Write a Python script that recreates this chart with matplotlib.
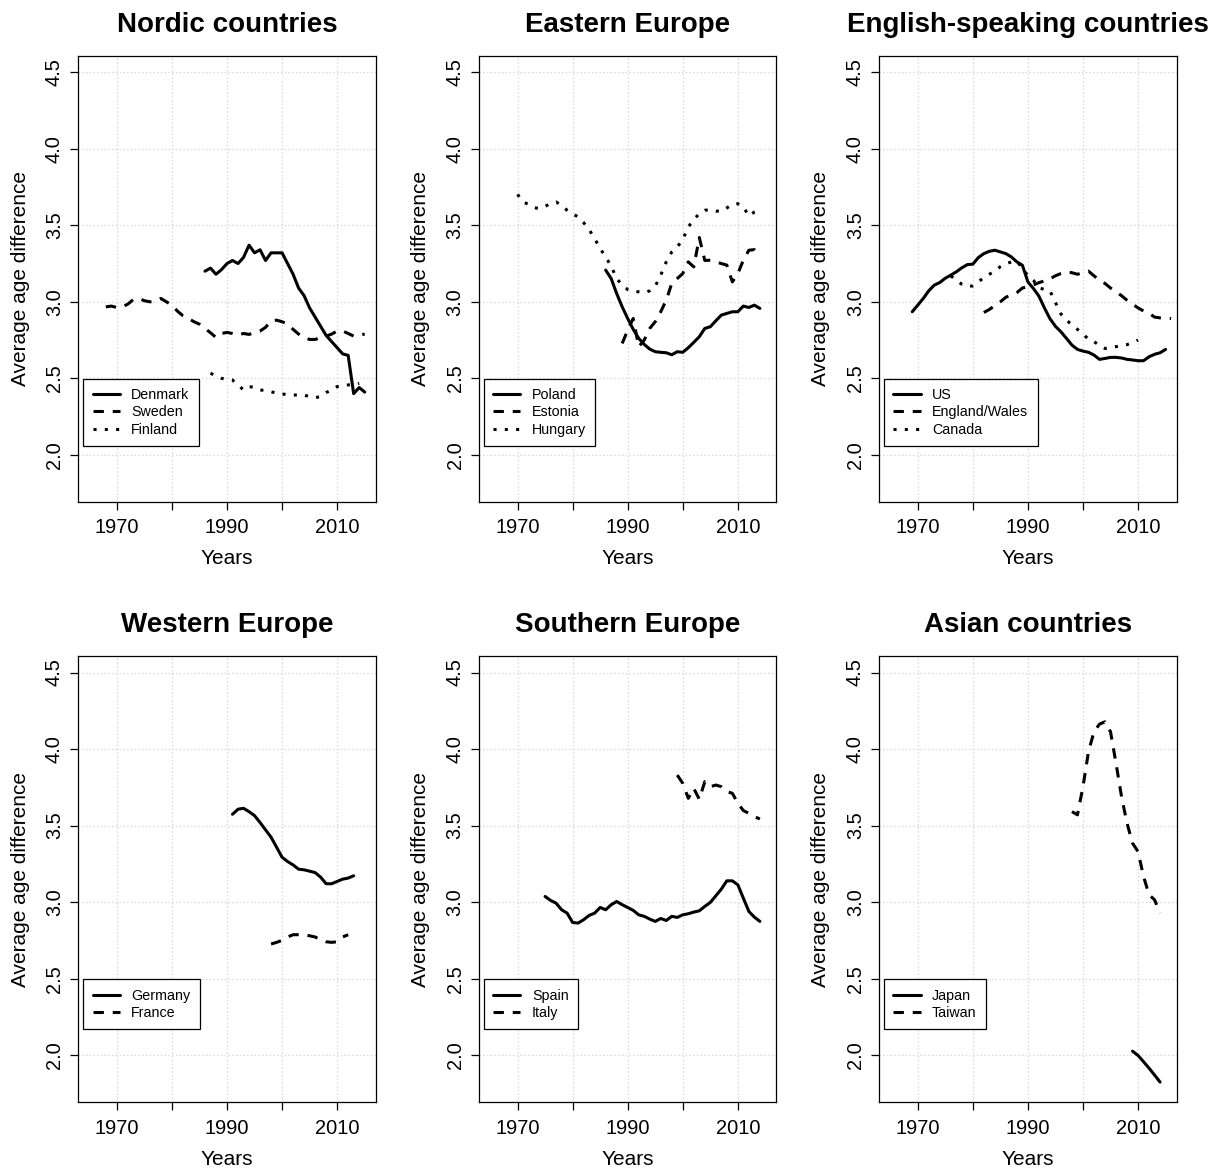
import matplotlib
matplotlib.use("Agg")
import matplotlib.pyplot as plt

plt.rcParams['font.family'] = ['Liberation Sans', 'DejaVu Sans']

# ---- data (average age difference by year) ----
denmark_years = list(range(1986, 2016))
denmark = [3.20, 3.22, 3.18, 3.21, 3.25, 3.27, 3.25, 3.29, 3.37, 3.32,
           3.34, 3.27, 3.32, 3.32, 3.32, 3.25, 3.18, 3.09, 3.04, 2.96,
           2.90, 2.84, 2.78, 2.74, 2.70, 2.66, 2.65, 2.40, 2.44, 2.41]
sweden_years = list(range(1968, 2016))
sweden = [2.967, 2.972, 2.963, 2.967, 2.985, 3.015, 3.022, 3.007, 3.0, 3.004,
          3.022, 3.0, 2.978, 2.939, 2.909, 2.891, 2.87, 2.854, 2.826, 2.798,
          2.767, 2.793, 2.80, 2.793, 2.783, 2.793, 2.787, 2.798, 2.809, 2.833,
          2.876, 2.88, 2.87, 2.854, 2.82, 2.789, 2.767, 2.754, 2.754, 2.767,
          2.776, 2.789, 2.809, 2.809, 2.793, 2.776, 2.783, 2.789]
finland_years = list(range(1987, 2015))
finland = [2.533, 2.517, 2.50, 2.493, 2.489, 2.457, 2.424, 2.446, 2.441, 2.424,
           2.42, 2.413, 2.402, 2.398, 2.393, 2.391, 2.391, 2.391, 2.38, 2.374,
           2.38, 2.407, 2.424, 2.446, 2.45, 2.457, 2.457, 2.467]

poland_years = list(range(1986, 2015))
poland = [3.207, 3.152, 3.054, 2.967, 2.891, 2.82, 2.761, 2.722, 2.691, 2.674,
          2.67, 2.667, 2.654, 2.674, 2.67, 2.70, 2.735, 2.772, 2.826, 2.837,
          2.876, 2.913, 2.924, 2.935, 2.935, 2.972, 2.963, 2.978, 2.957]
estonia_years = list(range(1989, 2015))
estonia = [2.728, 2.815, 2.891, 2.707, 2.75, 2.826, 2.87, 2.935, 3.011, 3.12,
           3.152, 3.185, 3.261, 3.228, 3.42, 3.27, 3.272, 3.261, 3.25, 3.24,
           3.13, 3.185, 3.272, 3.337, 3.341, 3.293]
hungary_years = list(range(1970, 2015))
hungary = [3.702, 3.652, 3.637, 3.615, 3.609, 3.624, 3.641, 3.652, 3.630, 3.598,
           3.576, 3.554, 3.517, 3.472, 3.413, 3.348, 3.293, 3.233, 3.152, 3.109,
           3.08, 3.07, 3.065, 3.059, 3.072, 3.102, 3.174, 3.261, 3.326, 3.359,
           3.407, 3.489, 3.537, 3.576, 3.598, 3.602, 3.593, 3.591, 3.613, 3.637,
           3.641, 3.62, 3.561, 3.587, 3.602]

us_years = list(range(1969, 2016))
us = [2.935, 2.978, 3.022, 3.072, 3.109, 3.126, 3.154, 3.174, 3.196, 3.222,
      3.243, 3.246, 3.289, 3.315, 3.330, 3.337, 3.326, 3.315, 3.293, 3.261,
      3.239, 3.13, 3.087, 3.037, 2.96, 2.89, 2.84, 2.804, 2.761, 2.717,
      2.689, 2.678, 2.67, 2.652, 2.624, 2.63, 2.637, 2.637, 2.633, 2.624,
      2.62, 2.615, 2.615, 2.641, 2.657, 2.667, 2.689]
england_years = list(range(1982, 2017))
england = [2.93, 2.95, 2.975, 3.00, 3.03, 3.045, 3.06, 3.09, 3.10, 3.11,
           3.125, 3.137, 3.15, 3.17, 3.185, 3.195, 3.19, 3.18, 3.19, 3.20,
           3.17, 3.14, 3.12, 3.09, 3.065, 3.04, 3.01, 2.985, 2.96, 2.94,
           2.925, 2.90, 2.895, 2.893, 2.891]
canada_years = list(range(1976, 2011))
canada = [3.17, 3.14, 3.115, 3.10, 3.104, 3.13, 3.158, 3.18, 3.20, 3.23,
          3.25, 3.26, 3.265, 3.22, 3.17, 3.14, 3.093, 3.08, 3.072, 2.996,
          2.92, 2.88, 2.85, 2.82, 2.79, 2.755, 2.74, 2.715, 2.695, 2.70,
          2.707, 2.715, 2.72, 2.735, 2.75]

germany_years = list(range(1991, 2014))
germany = [3.574, 3.607, 3.613, 3.591, 3.565, 3.52, 3.472, 3.424, 3.359, 3.293,
           3.265, 3.243, 3.215, 3.211, 3.202, 3.193, 3.163, 3.12, 3.12, 3.135,
           3.15, 3.157, 3.172]
france_years = list(range(1998, 2013))
france = [2.726, 2.737, 2.75, 2.772, 2.787, 2.787, 2.787, 2.78, 2.772, 2.754,
          2.741, 2.737, 2.741, 2.772, 2.787]

spain_years = list(range(1975, 2015))
spain = [3.037, 3.011, 2.993, 2.95, 2.928, 2.867, 2.863, 2.885, 2.913, 2.928,
         2.965, 2.95, 2.983, 3.004, 2.983, 2.965, 2.946, 2.917, 2.907, 2.889,
         2.874, 2.893, 2.88, 2.907, 2.9, 2.917, 2.924, 2.935, 2.943, 2.972,
         2.998, 3.041, 3.085, 3.139, 3.139, 3.113, 3.026, 2.939, 2.902, 2.874]
italy_years = list(range(1999, 2015))
italy = [3.83, 3.776, 3.678, 3.743, 3.672, 3.787, 3.754, 3.765, 3.754, 3.722,
         3.711, 3.646, 3.598, 3.58, 3.559, 3.543]

japan_years = list(range(2009, 2015))
japan = [2.026, 1.998, 1.957, 1.915, 1.87, 1.824]
taiwan_years = list(range(1998, 2015))
taiwan = [3.591, 3.57, 3.754, 3.983, 4.113, 4.163, 4.178, 4.113, 3.907, 3.689,
          3.515, 3.385, 3.33, 3.167, 3.048, 3.015, 2.928]

x_ticks = [1970, 1980, 1990, 2000, 2010]
x_labels = ['1970', '', '1990', '', '2010']
y_ticks = [2.0, 2.5, 3.0, 3.5, 4.0, 4.5]
y_labels = ['2.0', '2.5', '3.0', '3.5', '4.0', '4.5']

SOLID = dict(linestyle='-')
DASHED = dict(linestyle=(0, (3.4, 2.9)))
DOTTED = dict(linestyle=(0, (1.0, 2.7)))

panels = [
    ("Nordic countries", [(denmark_years, denmark, SOLID, "Denmark"),
                          (sweden_years, sweden, DASHED, "Sweden"),
                          (finland_years, finland, DOTTED, "Finland")]),
    ("Eastern Europe", [(poland_years, poland, SOLID, "Poland"),
                        (estonia_years, estonia, DASHED, "Estonia"),
                        (hungary_years, hungary, DOTTED, "Hungary")]),
    ("English-speaking countries", [(us_years, us, SOLID, "US"),
                                    (england_years, england, DASHED, "England/Wales"),
                                    (canada_years, canada, DOTTED, "Canada")]),
    ("Western Europe", [(germany_years, germany, SOLID, "Germany"),
                        (france_years, france, DASHED, "France")]),
    ("Southern Europe", [(spain_years, spain, SOLID, "Spain"),
                         (italy_years, italy, DASHED, "Italy")]),
    ("Asian countries", [(japan_years, japan, SOLID, "Japan"),
                         (taiwan_years, taiwan, DASHED, "Taiwan")]),
]

W, H = 1221, 1174
col_left = [78.3, 479.0, 879.2]
row_bottom = [502.0, 1102.3]
pw, ph = 297.4, 446.3

fig = plt.figure(figsize=(W / 100, H / 100), dpi=100)

for i, (title, series) in enumerate(panels):
    r, c = divmod(i, 3)
    ax = fig.add_axes([col_left[c] / W, 1 - row_bottom[r] / H, pw / W, ph / H])
    for yrs, vals, style, lab in series:
        ax.plot(yrs, vals, color='black', lw=2.2, label=lab,
                solid_capstyle='round', **style)
    ax.set_xlim(1963, 2017)
    ax.set_ylim(1.692, 4.608)
    ax.set_xticks(x_ticks)
    ax.set_xticklabels(x_labels)
    ax.set_yticks(y_ticks)
    ax.set_yticklabels(y_labels, rotation=90, va='center')
    ax.tick_params(axis='both', direction='out', length=5.8, width=0.9,
                   labelsize=14.4, color='black')
    ax.tick_params(axis='x', pad=6.0)
    ax.tick_params(axis='y', pad=4.5)
    ax.grid(True, color='#d3d3d3', linestyle=(0, (1, 2)), linewidth=0.9)
    ax.set_axisbelow(True)
    for s in ax.spines.values():
        s.set_linewidth(0.9)
        s.set_color('black')
    ax.set_title(title, fontsize=20, fontweight='bold', pad=17)
    ax.set_xlabel("Years", fontsize=15)
    ax.set_ylabel("Average age difference", fontsize=15)
    ax.xaxis.set_label_coords(0.5, -0.106)
    ax.yaxis.set_label_coords(-0.164, 0.5)
    leg = ax.legend(loc='upper left', bbox_to_anchor=(0.0168, 0.2756),
                    borderaxespad=0, fontsize=10.3, frameon=True, fancybox=False,
                    edgecolor='black', framealpha=1, borderpad=0.65,
                    handlelength=1.9, handletextpad=0.8, labelspacing=0.22)
    leg.get_frame().set_linewidth(0.9)

fig.savefig("out.png", dpi=100)
